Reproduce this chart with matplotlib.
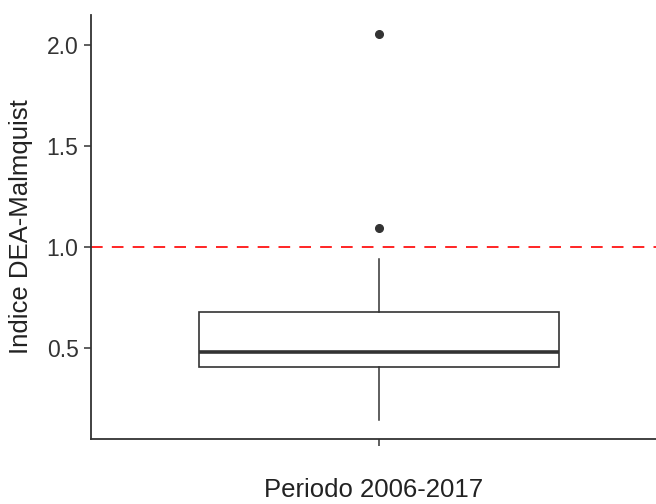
import matplotlib
matplotlib.use("Agg")
import matplotlib.pyplot as plt

plt.rcParams['font.family'] = ['Liberation Sans', 'DejaVu Sans']

# box summary
periodo = "Periodo 2006-2017"
whislo = 0.145
q1 = 0.405
med = 0.48
q3 = 0.68
whishi = 0.94
outliers = [1.095, 2.055]
ref_line = 1.0
yticks = [0.5, 1.0, 1.5, 2.0]

fig = plt.figure(figsize=(6.56, 5.04), dpi=100)
ax = fig.add_axes([91 / 656, 65 / 504, 1 - 91 / 656, (439 - 15) / 504])

stats = [{"whislo": whislo, "q1": q1, "med": med, "q3": q3,
          "whishi": whishi, "fliers": outliers, "label": ""}]
ax.bxp(stats, positions=[1], widths=0.75, showcaps=False, patch_artist=True,
       boxprops=dict(facecolor="white", edgecolor="#333333", linewidth=1.2),
       medianprops=dict(color="#333333", linewidth=2.6),
       whiskerprops=dict(color="#333333", linewidth=1.1),
       flierprops=dict(marker="o", markerfacecolor="#333333",
                       markeredgecolor="#333333", markersize=5.5))

# reference line at 1
ax.axhline(ref_line, color="red", linestyle=(0, (7, 5.5)), linewidth=1.2, zorder=0)

ax.set_xlim(0.4, 1 + (656 - 379) / 480)
ax.set_ylim(0.05, 2.15)
ax.set_yticks(yticks)
ax.set_yticklabels([f"{v:.1f}" for v in yticks])
ax.set_xticks([1])
ax.set_xticklabels([""])

for s in ["top", "right"]:
    ax.spines[s].set_visible(False)
for s in ["left", "bottom"]:
    ax.spines[s].set_color("#333333")
    ax.spines[s].set_linewidth(1.3)
ax.tick_params(colors="#333333", width=1.1, length=5, labelsize=16.5,
               labelcolor="#333333", pad=4)

ax.set_ylabel("Indice DEA-Malmquist", fontsize=18.5, color="#222222", labelpad=10)
ax.set_xlabel(periodo, fontsize=18.5, color="#222222", labelpad=19)

fig.savefig("out.png", dpi=100)
